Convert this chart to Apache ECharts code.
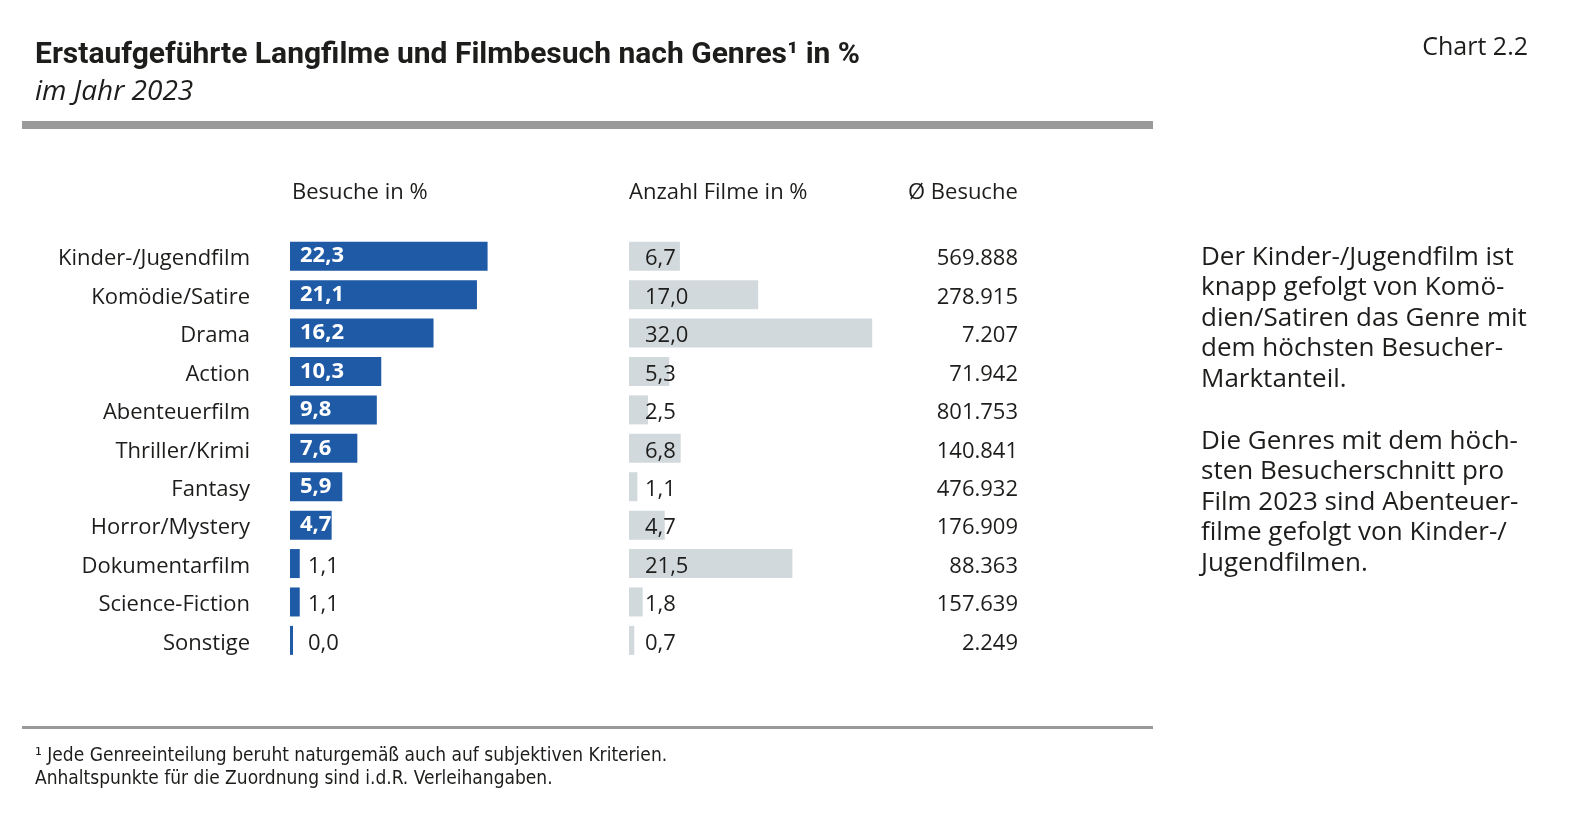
<!DOCTYPE html>
<html>
<head>
<meta charset="utf-8">
<script src="https://cdn.jsdelivr.net/npm/echarts@6/dist/echarts.min.js"></script>
<style>
html,body{margin:0;padding:0;background:#fff;}
#chart{width:1595px;height:830px;}
</style>
</head>
<body>
<div id="chart"></div>
<script>
const categories = ['Kinder-/Jugendfilm','Komödie/Satire','Drama','Action','Abenteuerfilm','Thriller/Krimi','Fantasy','Horror/Mystery','Dokumentarfilm','Science-Fiction','Sonstige'];
const visitsPct = [22.3,21.1,16.2,10.3,9.8,7.6,5.9,4.7,1.1,1.1,0.0];
const filmsPct = [6.7,17.0,32.0,5.3,2.5,6.8,1.1,4.7,21.5,1.8,0.7];
const avgVisits = [569888,278915,7207,71942,801753,140841,476932,176909,88363,157639,2249];
const columnHeaders = ['Besuche in %','Anzahl Filme in %','Ø Besuche'];
const titleText = 'Erstaufgeführte Langfilme und Filmbesuch nach Genres¹ in %';
const subtitleText = 'im Jahr 2023';
const chartNo = 'Chart 2.2';
const sideText1 = ['Der Kinder-/Jugendfilm ist','knapp gefolgt von Komö-','dien/Satiren das Genre mit','dem höchsten Besucher-','Marktanteil.'];
const sideText2 = ['Die Genres mit dem höch-','sten Besucherschnitt pro','Film 2023 sind Abenteuer-','filme gefolgt von Kinder-/','Jugendfilmen.'];
const footnote = ['¹ Jede Genreeinteilung beruht naturgemäß auch auf subjektiven Kriterien.','Anhaltspunkte für die Zuordnung sind i.d.R. Verleihangaben.'];

const BLUE = '#1f5aa7', GREY = '#d2d9dd', TXT = '#1d1d1b';
const BODY = "'Open Sans', 'Noto Sans', sans-serif";
const COND = "'DejaVu Sans Condensed', 'Roboto', sans-serif";

function fmtPct(v){ return v.toFixed(1).replace('.', ','); }
function fmtInt(v){ return String(v).replace(/\B(?=(\d{3})+(?!\d))/g, '.'); }

const chart = echarts.init(document.getElementById('chart'), null, {renderer:'canvas'});

const GT = 237, GH = 422.6;

const blueData = visitsPct.map(v => {
  const big = v >= 3;
  return {
    value: v,
    label: big
      ? {position:'insideLeft', distance:10, color:'#ffffff', fontWeight:'bold', fontSize:22}
      : {position:'insideLeft', distance:18, color:TXT, fontWeight:'normal', fontSize:22, offset:[0,3]}
  };
});

const graphics = [];
graphics.push({type:'rect', shape:{x:22, y:121, width:1131, height:8}, style:{fill:'#9a9a9a'}});
graphics.push({type:'rect', shape:{x:22, y:726, width:1131, height:3}, style:{fill:'#9a9a9a'}});
graphics.push({type:'text', x:35, y:55, style:{text:titleText, font:"bold 30px Roboto", fill:TXT, textAlign:'left', textVerticalAlign:'middle'}});
graphics.push({type:'text', x:35, y:92, style:{text:subtitleText, font:"italic 28px 'Open Sans'", fill:TXT, textAlign:'left', textVerticalAlign:'middle'}});
graphics.push({type:'text', x:1528, y:48, style:{text:chartNo, font:"25px 'Open Sans'", fill:TXT, textAlign:'right', textVerticalAlign:'middle'}});
const hdrX = [292, 629, 908];
columnHeaders.forEach((h,i)=>graphics.push({type:'text', x:hdrX[i], y:193, style:{text:h, font:"22px 'Open Sans'", fill:TXT, textAlign:'left', textVerticalAlign:'middle'}}));
sideText1.forEach((t,i)=>graphics.push({type:'text', x:1201, y:257.5 + i*30.5, style:{text:t, font:"26px 'Open Sans'", fill:TXT, textAlign:'left', textVerticalAlign:'middle'}}));
sideText2.forEach((t,i)=>graphics.push({type:'text', x:1201, y:441.5 + i*30.5, style:{text:t, font:"26px 'Open Sans'", fill:TXT, textAlign:'left', textVerticalAlign:'middle'}}));
footnote.forEach((t,i)=>graphics.push({type:'text', x:35, y:756 + i*23, style:{text:t, font:"19px "+COND, fill:TXT, textAlign:'left', textVerticalAlign:'middle'}}));

const option = {
  backgroundColor:'#ffffff',
  animation:false,
  grid:[
    {left:290, top:GT, width:265.8, height:GH, containLabel:false},
    {left:629, top:GT, width:304, height:GH, containLabel:false}
  ],
  xAxis:[
    {gridIndex:0, type:'value', min:0, max:30, show:false},
    {gridIndex:1, type:'value', min:0, max:40, show:false}
  ],
  yAxis:[
    {gridIndex:0, type:'category', data:categories, inverse:true,
     axisLine:{show:false}, axisTick:{show:false}, splitLine:{show:false},
     axisLabel:{margin:40, fontSize:22, fontFamily:BODY, color:TXT, align:'right', verticalAlign:'top', lineHeight:6}},
    {gridIndex:1, type:'category', data:categories, inverse:true, position:'right',
     axisLine:{show:false}, axisTick:{show:false}, splitLine:{show:false},
     axisLabel:{margin:85, fontSize:22, fontFamily:BODY, color:TXT, align:'right', verticalAlign:'top', lineHeight:6,
       formatter:(v, i)=>fmtInt(avgVisits[i])}}
  ],
  series:[
    {type:'bar', xAxisIndex:0, yAxisIndex:0, data:blueData, barWidth:29, barMinHeight:3,
     itemStyle:{color:BLUE}, silent:true,
     label:{show:true, fontFamily:BODY, formatter:p=>fmtPct(p.value)}},
    {type:'bar', xAxisIndex:1, yAxisIndex:1, data:filmsPct, barWidth:29, barMinHeight:3,
     itemStyle:{color:GREY}, silent:true,
     label:{show:true, position:'insideLeft', distance:16, fontFamily:BODY, fontSize:22, color:TXT, offset:[0,3], formatter:p=>fmtPct(p.value)}}
  ],
  graphic:graphics
};
chart.setOption(option);
</script>
</body>
</html>
